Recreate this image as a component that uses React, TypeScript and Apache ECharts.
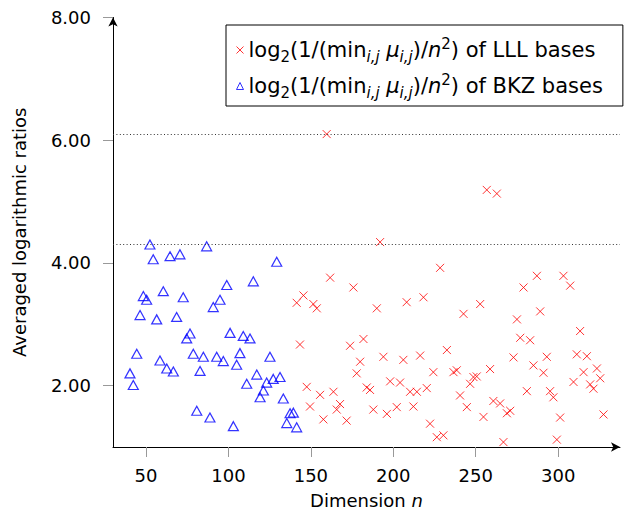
import React, { useEffect, useRef } from 'react';
import * as echarts from 'echarts';

// BKZ bases: dimension n and averaged log ratio
const bkzN = [40.3, 42.3, 44.4, 46.4, 48.4, 50.4, 52.4, 54.4, 56.5, 58.5, 60.5, 62.6, 64.6, 66.6, 68.6, 70.6, 72.6, 74.7, 76.7, 78.7, 80.8, 82.8, 84.8, 86.8, 88.8, 90.8, 92.9, 94.9, 96.9, 99.0, 101.0, 103.0, 105.0, 107.0, 109.0, 111.1, 113.1, 115.1, 117.2, 119.2, 121.2, 123.2, 125.2, 127.2, 129.3, 131.3, 133.3, 135.4, 137.4, 139.4, 141.4];
const bkzRatio = [2.20, 2.01, 2.52, 3.15, 3.46, 3.40, 4.30, 4.06, 3.08, 2.41, 3.54, 2.28, 4.11, 2.23, 3.12, 4.14, 3.44, 2.77, 2.85, 2.52, 1.59, 2.24, 2.47, 4.27, 1.48, 3.28, 2.47, 3.40, 2.40, 3.64, 2.86, 1.34, 2.34, 2.53, 2.81, 2.03, 2.77, 3.70, 2.18, 1.81, 1.92, 2.05, 2.47, 2.11, 4.02, 2.14, 1.79, 1.39, 1.55, 1.56, 1.32];

// LLL bases
const lllN = [141.4, 143.4, 145.5, 147.5, 149.5, 151.5, 153.6, 155.6, 157.6, 159.6, 161.7, 163.7, 165.7, 167.7, 171.7, 173.8, 175.8, 177.8, 179.9, 181.9, 183.9, 185.9, 187.9, 190.0, 192.0, 194.0, 196.1, 198.1, 202.1, 204.1, 206.1, 208.1, 210.2, 212.2, 214.3, 216.3, 218.3, 220.3, 222.3, 224.3, 226.4, 228.4, 230.4, 232.5, 236.5, 238.5, 240.5, 242.6, 244.6, 246.6, 248.6, 250.6, 252.7, 254.7, 256.7, 258.7, 260.7, 262.8, 264.8, 266.8, 268.9, 270.9, 272.9, 275.0, 277.0, 279.0, 281.0, 283.0, 285.0, 287.1, 289.1, 291.1, 293.1, 295.1, 297.1, 299.2, 301.2, 303.2, 307.3, 309.3, 311.3, 313.3, 315.4, 317.4, 319.4, 321.4, 323.5, 325.5, 327.5];
const lllRatio = [3.35, 2.67, 3.47, 1.98, 1.66, 3.33, 3.26, 1.85, 1.45, 6.10, 3.76, 1.90, 1.61, 1.70, 1.43, 2.65, 3.60, 2.20, 2.39, 2.76, 1.97, 1.93, 1.61, 3.26, 4.34, 2.47, 1.54, 2.07, 1.65, 2.05, 2.42, 3.36, 1.90, 1.66, 1.90, 2.49, 3.44, 1.96, 1.38, 2.22, 1.16, 3.92, 1.19, 2.58, 2.22, 2.25, 1.84, 3.17, 1.65, 2.03, 2.14, 2.15, 3.33, 1.49, 5.19, 2.27, 1.75, 5.13, 1.71, 1.08, 1.55, 1.59, 2.46, 3.08, 2.78, 3.60, 1.91, 2.74, 2.33, 3.79, 3.21, 2.21, 2.47, 1.91, 1.81, 1.12, 1.48, 3.79, 3.63, 2.06, 2.51, 2.89, 2.22, 2.48, 2.02, 1.95, 2.28, 2.12, 1.53];

const xTicks = [50, 100, 150, 200, 250, 300];
const yTicks = [2, 4, 6, 8];
const seriesNames = ['LLL', 'BKZ'];

const FONT = 'DejaVu Sans';
const CROSS = 'path://M0,0L10,10M10,0L0,10';
const RED = '#ff0000';
const BLUE = '#0000ff';
const AX = 18;
const LF = 21;
const LS = 15;

function legendLabel(kind: string) {
  return `{n|log}{sub|2}{n|(1/(min}{isub|i,j}{i| μ}{isub|i,j}{n|)/}{i|n}{sup|2}{n|) of ${kind} bases}`;
}

export default function App() {
  const ref = useRef<HTMLDivElement>(null);
  useEffect(() => {
    if (!ref.current) return;
    const chart = echarts.init(ref.current, undefined, { renderer: 'svg' });
    const LH = 28;
    chart.setOption({
      animation: false,
      backgroundColor: '#fff',
      grid: { left: 113, top: 17.5, right: 9, bottom: 65, containLabel: false, outerBoundsMode: 'none' },
      xAxis: {
        type: 'value',
        min: 30,
        max: 337.5,
        name: '{a|Dimension }{b|n}',
        nameLocation: 'middle',
        nameGap: 44,
        nameTextStyle: {
          rich: {
            a: { fontFamily: FONT, fontSize: AX, color: '#000' },
            b: { fontFamily: FONT, fontSize: AX, color: '#000', fontStyle: 'italic' },
          },
        },
        axisLine: { show: true, lineStyle: { color: '#000', width: 1 }, symbol: ['none', 'arrow'], symbolSize: [7, 9] },
        axisTick: { show: true, length: 10, customValues: xTicks, lineStyle: { color: '#999' } },
        axisLabel: { customValues: xTicks, margin: 19, fontFamily: FONT, fontSize: AX, color: '#000' },
        splitLine: { show: false },
      },
      yAxis: {
        type: 'value',
        min: 1,
        max: 8,
        name: 'Averaged logarithmic ratios',
        nameLocation: 'middle',
        nameGap: 85,
        nameTextStyle: { fontFamily: FONT, fontSize: AX, color: '#000' },
        axisLine: { show: true, lineStyle: { color: '#000', width: 1 }, symbol: ['none', 'arrow'], symbolSize: [7, 9] },
        axisTick: { show: true, length: 10, customValues: yTicks, lineStyle: { color: '#999' } },
        axisLabel: {
          customValues: yTicks,
          formatter: (v: number) => v.toFixed(2),
          margin: 22,
          fontFamily: FONT,
          fontSize: AX,
          color: '#000',
        },
        splitLine: { show: false },
      },
      legend: {
        left: 226,
        top: 25,
        orient: 'vertical',
        padding: [11, 20, 6, 10],
        itemGap: 8,
        itemWidth: 7,
        itemHeight: 7,
        borderColor: '#000',
        borderWidth: 1,
        backgroundColor: '#fff',
        selectedMode: false,
        data: [
          { name: seriesNames[0], icon: CROSS, itemStyle: { color: 'rgba(0,0,0,0)', borderColor: RED, borderWidth: 1 } },
          { name: seriesNames[1], icon: 'triangle', itemStyle: { color: 'rgba(0,0,0,0)', borderColor: BLUE, borderWidth: 1 } },
        ],
        formatter: (name: string) => legendLabel(name),
        textStyle: {
          fontFamily: FONT,
          fontSize: LF,
          color: '#000',
          rich: {
            n: { fontFamily: FONT, fontSize: LF, color: '#000', lineHeight: LH },
            i: { fontFamily: FONT, fontSize: LF, color: '#000', fontStyle: 'italic', lineHeight: LH },
            sub: { fontFamily: FONT, fontSize: LS, color: '#000', padding: [13, 0, 0, 0], lineHeight: LH },
            isub: { fontFamily: FONT, fontSize: LS, color: '#000', fontStyle: 'italic', padding: [13, 0, 0, 0], lineHeight: LH },
            sup: { fontFamily: FONT, fontSize: LS, color: '#000', padding: [0, 0, 13, 0], lineHeight: LH },
          },
        },
      },
      series: [
        {
          name: seriesNames[0],
          type: 'scatter',
          data: lllN.map((n, i) => [n, lllRatio[i]]),
          symbol: CROSS,
          symbolSize: 8,
          itemStyle: { color: 'rgba(0,0,0,0)', borderColor: RED, borderWidth: 1 },
          emphasis: { disabled: true },
          z: 3,
          markLine: {
            silent: true,
            symbol: ['none', 'none'],
            label: { show: false },
            lineStyle: { type: [1, 2.4], color: '#333', width: 1 },
            data: [{ yAxis: Math.max(...lllRatio) }],
          },
        },
        {
          name: seriesNames[1],
          type: 'scatter',
          data: bkzN.map((n, i) => [n, bkzRatio[i]]),
          symbol: 'triangle',
          symbolSize: [10, 9],
          itemStyle: { color: 'rgba(0,0,0,0)', borderColor: BLUE, borderWidth: 1.2 },
          emphasis: { disabled: true },
          z: 3,
          markLine: {
            silent: true,
            symbol: ['none', 'none'],
            label: { show: false },
            lineStyle: { type: [1, 2.4], color: '#333', width: 1 },
            data: [{ yAxis: Math.max(...bkzRatio) }],
          },
        },
      ],
    });
    return () => chart.dispose();
  }, []);
  return <div ref={ref} style={{ position: 'fixed', left: 0, top: 0, width: 629, height: 512 }} />;
}
